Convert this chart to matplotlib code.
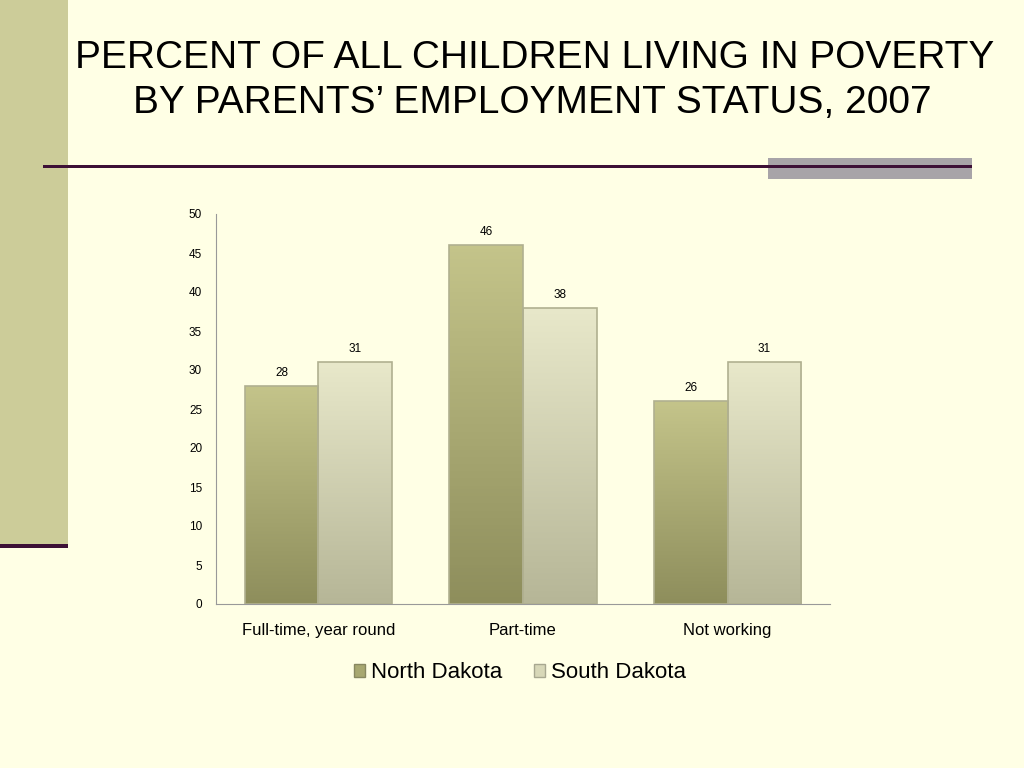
import matplotlib
matplotlib.use("Agg")
import matplotlib.pyplot as plt
import numpy as np
from matplotlib.patches import Rectangle

plt.rcParams['font.family'] = ['Liberation Sans', 'DejaVu Sans']

categories = ["Full-time, year round", "Part-time", "Not working"]
north_dakota = [28, 46, 26]
south_dakota = [31, 38, 31]
series_names = ["North Dakota", "South Dakota"]

W, H = 1024, 768
fig = plt.figure(figsize=(W/100, H/100), dpi=100)
bg = "#FFFFE5"
fig.patch.set_facecolor(bg)

# decorations
fig.add_artist(Rectangle((0, 1-545/H), 68/W, 545/H, transform=fig.transFigure, color="#CCCC99", lw=0))
fig.add_artist(Rectangle((0, 1-548/H), 68/W, 4/H, transform=fig.transFigure, color="#3D1036", lw=0))
fig.add_artist(Rectangle((768/W, 1-179/H), (972-768)/W, 21/H, transform=fig.transFigure, color="#A8A4A8", lw=0))
fig.add_artist(Rectangle((43/W, 1-168/H), (972-43)/W, 3/H, transform=fig.transFigure, color="#3D1036", lw=0))

fig.text(535/W, 1-58/H, "PERCENT OF ALL CHILDREN LIVING IN POVERTY", ha="center", va="center", fontsize=28)
fig.text(532/W, 1-103/H, "BY PARENTS\u2019 EMPLOYMENT STATUS, 2007", ha="center", va="center", fontsize=28)

ax = fig.add_axes([216/W, 1-604/H, (830-216)/W, (604-214)/H])
ax.set_facecolor(bg)
ax.set_xlim(0, 3)
ax.set_ylim(0, 50)
ax.set_yticks(range(0, 51, 5))
ax.tick_params(axis="y", labelsize=8.5, length=0, pad=10)
ax.tick_params(axis="x", length=0, labelsize=12, pad=14)
for s in ["top", "right"]:
    ax.spines[s].set_visible(False)
for s in ["left", "bottom"]:
    ax.spines[s].set_color("#999999")
    ax.spines[s].set_linewidth(0.8)

x = np.arange(len(categories)) + 0.5
bw = 0.36

def grad_bars(xs, vals, top_col, bot_col):
    for xi, v in zip(xs, vals):
        g = np.linspace(0, 1, 100).reshape(-1, 1)
        c1 = np.array(matplotlib.colors.to_rgb(top_col))
        c2 = np.array(matplotlib.colors.to_rgb(bot_col))
        img = (c1[None, None, :] * (1-g[:, :, None]) + c2[None, None, :] * g[:, :, None])
        im = ax.imshow(img, extent=(xi-bw/2, xi+bw/2, 0, v), aspect="auto", zorder=2, origin="upper")
        r = Rectangle((xi-bw/2, 0), bw, v, fill=False, ec="#B0B090", lw=1.2, zorder=3)
        ax.add_patch(r)
        im.set_clip_path(r)
        ax.text(xi, v + 0.9, f"{v}", ha="center", va="bottom", fontsize=8.5)

grad_bars(x - bw/2, north_dakota, "#C4C48A", "#8E8E5C")
grad_bars(x + bw/2, south_dakota, "#E8E8CA", "#B6B697")
ax.set_xlim(0, 3); ax.set_ylim(0, 50)
ax.set_xticks(x)
ax.set_xticklabels(categories)

h1 = Rectangle((0, 0), 1, 1, fc="#A8A870", ec="#888860")
h2 = Rectangle((0, 0), 1, 1, fc="#D8D8B8", ec="#A8A890")
fig.legend([h1, h2], series_names, loc="center", bbox_to_anchor=(520/W, 1-673/H), ncol=2,
           frameon=False, fontsize=16, handlelength=0.5, handleheight=0.5, handletextpad=0.3,
           columnspacing=1.4)

fig.savefig("out.png", dpi=100, facecolor=bg)
